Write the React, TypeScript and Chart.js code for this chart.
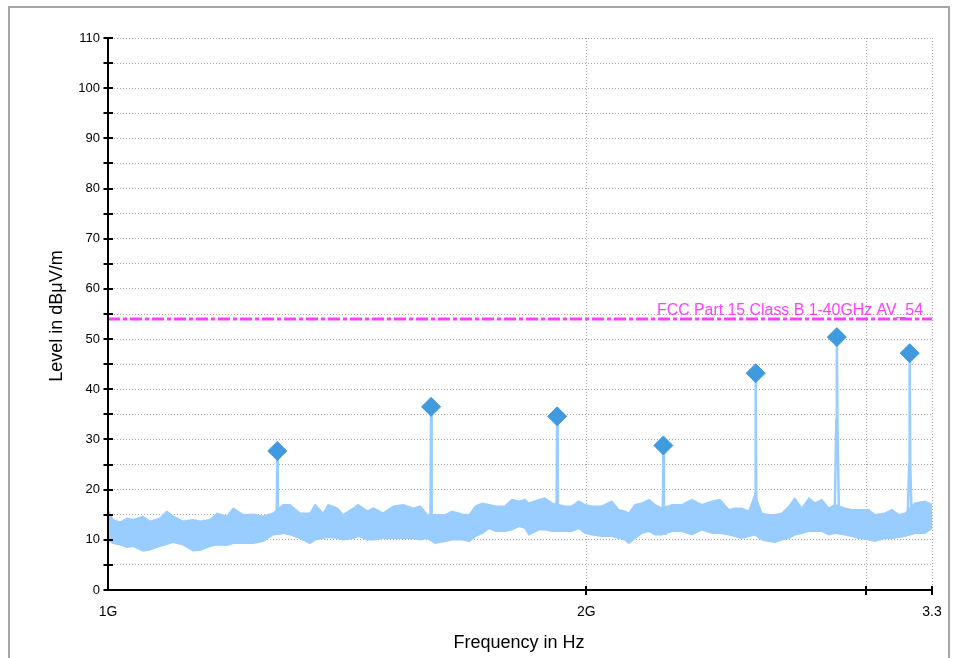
import React, { useEffect, useRef } from 'react';
import { Chart, registerables } from 'chart.js';

Chart.register(...registerables);

// ---- Data (frequencies in MHz, levels in dBµV/m) ----
const noiseFreqMHz = [
  1000, 1007, 1018, 1028, 1037, 1052, 1063, 1078, 1089, 1099,
  1115, 1131, 1143, 1159, 1171, 1188, 1199, 1216, 1234, 1252,
  1270, 1289, 1302, 1321, 1340, 1350, 1366, 1376, 1394, 1406,
  1427, 1437, 1456, 1469, 1490, 1512, 1534, 1556, 1572, 1588,
  1607, 1630, 1647, 1671, 1688, 1703, 1720, 1737, 1753, 1777,
  1795, 1814, 1830, 1840, 1867, 1883, 1903, 1939, 1958, 1978,
  1996, 2016, 2045, 2075, 2096, 2115, 2127, 2146, 2167, 2190,
  2209, 2231, 2264, 2297, 2330, 2364, 2399, 2427, 2459, 2480,
  2505, 2531, 2553, 2579, 2605, 2628, 2655, 2682, 2705, 2733,
  2761, 2785, 2813, 2842, 2867, 2909, 2938, 2968, 3011, 3038,
  3082, 3114, 3145, 3173, 3219, 3266, 3300,
];
const noiseTop = [
  16, 14, 13.5, 14.3, 14, 14.7, 13.7, 14.3, 15.7, 14.7,
  13.7, 14, 13.7, 14, 15.3, 14.7, 16.3, 15, 15.1, 14.7,
  15.3, 17, 17, 15.3, 15.3, 17, 15.3, 17, 16.3, 15,
  16.3, 17, 15.7, 16.3, 15.3, 16.7, 17, 16.3, 16.7, 15,
  15, 15, 15.7, 15.1, 15, 16.7, 17.3, 17, 16.7, 16.7,
  18, 17.7, 18, 17.3, 18, 18.3, 17.3, 16.7, 16.7, 17.7,
  17, 16.7, 16.7, 17.7, 16, 15.7, 15.3, 17, 17.3, 18,
  17, 16.3, 17, 17, 18, 17, 17.7, 18, 16, 16.3,
  16.3, 15.7, 19, 15.3, 15, 15, 15.3, 16.7, 18.3, 16.3,
  18.3, 17.3, 18, 16.3, 17, 16.3, 16, 16, 16, 15,
  15.3, 16, 15, 15.3, 17.3, 17.7, 17,
];
const noiseBottom = [
  10, 9.3, 9, 8.5, 8.7, 7.8, 8, 8.7, 9.1, 9.5,
  9, 7.8, 7.9, 8.7, 9, 8.9, 9.3, 9.3, 9.3, 9.7,
  11, 11.3, 11, 10.3, 9.3, 10, 10.3, 10.5, 10.3, 10,
  10.3, 10.7, 10, 10, 10.3, 10.3, 10.3, 10.3, 10, 10.3,
  9.3, 9.7, 10, 10, 9.7, 10.7, 11.3, 12.3, 11.7, 11.7,
  12, 12.7, 12.3, 11, 12, 12, 11.7, 11.7, 11.7, 12.3,
  11.3, 11, 10.7, 10.7, 10.3, 10, 9.3, 10.3, 11.3, 11.7,
  11, 11, 11.7, 11.7, 11, 12, 11.3, 11.3, 11, 10.7,
  10.3, 10.7, 11, 10, 9.7, 9.5, 10, 10.3, 11, 11.3,
  11.7, 11.7, 11.7, 11, 11.3, 11, 10.7, 10.3, 10, 9.7,
  10.3, 10.3, 10.5, 10.7, 11.3, 11.3, 12.3,
];

const peakFreqMHz = [1278, 1597, 1917, 2236, 2556, 2875, 3195];
const peakLevel = [27.7, 36.5, 34.6, 28.8, 43.2, 50.4, 47.2];
const peakBase = [11, 10.5, 11.7, 11, 11, 11.3, 11];
const peakShoulder = [15, 15, 15, 15, 19, 34, 25];

const limitLevel = 54;
const limitLabel = 'FCC Part 15 Class B 1-40GHz AV_54';

const xTickValues = [1000, 2000, 3000, 3300];
const xTickLabels = ['1G', '2G', '', '3.3'];
const xTitle = 'Frequency in Hz';
const yTitle = 'Level in dBμV/m';
const yMin = 0;
const yMax = 110;
const yStep = 5;
const yLabelStep = 10;

const FONT = "'Liberation Sans', Arial, sans-serif";

const decorPlugin = {
  id: 'decor',
  beforeDraw(chart: any) {
    const ctx = chart.ctx;
    ctx.save();
    ctx.fillStyle = '#ffffff';
    ctx.fillRect(0, 0, chart.width, chart.height);
    ctx.strokeStyle = '#A6A6A6';
    ctx.lineWidth = 2;
    ctx.strokeRect(9, 7, 940, 670);
    ctx.restore();
  },
  afterDatasetsDraw(chart: any) {
    const ctx = chart.ctx;
    const { left, right, top, bottom } = chart.chartArea;
    const xs = chart.scales.x;
    const ys = chart.scales.y;
    ctx.save();
    ctx.strokeStyle = '#000';
    ctx.lineWidth = 2;
    ctx.beginPath();
    ctx.moveTo(left, top);
    ctx.lineTo(left, bottom + 1);
    ctx.moveTo(left - 1, bottom);
    ctx.lineTo(right, bottom);
    for (let v = yMin; v <= yMax; v += yStep) {
      const y = Math.round(ys.getPixelForValue(v));
      ctx.moveTo(left - 4.5, y);
      ctx.lineTo(left + 5, y);
    }
    xTickValues.forEach((v) => {
      if (v === xTickValues[0]) return;
      const x = Math.round(xs.getPixelForValue(v));
      ctx.moveTo(x, bottom - 4);
      ctx.lineTo(x, bottom + 5);
    });
    ctx.stroke();

    // limit label
    ctx.fillStyle = '#FF40FF';
    ctx.font = '16px ' + FONT;
    ctx.textAlign = 'right';
    ctx.textBaseline = 'alphabetic';
    const ly = ys.getPixelForValue(limitLevel);
    ctx.fillText(limitLabel, right - 9, ly - 4, 266);

    // axis titles
    ctx.fillStyle = '#000';
    ctx.font = '18px ' + FONT;
    ctx.textAlign = 'center';
    ctx.textBaseline = 'middle';
    ctx.fillText(xTitle, 519, 643);
    ctx.translate(57, 316);
    ctx.rotate(-Math.PI / 2);
    ctx.fillText(yTitle, 0, 0);
    ctx.restore();
  },
};

export default function App() {
  const ref = useRef<HTMLCanvasElement | null>(null);
  useEffect(() => {
    if (!ref.current) return;
    const bandTop = noiseFreqMHz.map((f, i) => ({ x: f, y: noiseTop[i] }));
    const bandBottom = noiseFreqMHz.map((f, i) => ({ x: f, y: noiseBottom[i] }));
    const spikes: any[] = [];
    peakFreqMHz.forEach((f, i) => {
      spikes.push({ x: f * 0.9965, y: peakBase[i] });
      spikes.push({ x: f * 0.9992, y: peakShoulder[i] });
      spikes.push({ x: f, y: peakLevel[i] });
      spikes.push({ x: f * 1.0008, y: peakShoulder[i] });
      spikes.push({ x: f * 1.0035, y: peakBase[i] });
      spikes.push({ x: f * 1.004, y: null });
    });
    const peaks = peakFreqMHz.map((f, i) => ({ x: f, y: peakLevel[i] }));
    const limit = [
      { x: xTickValues[0], y: limitLevel },
      { x: xTickValues[xTickValues.length - 1], y: limitLevel },
    ];

    const chart = new Chart(ref.current, {
      type: 'line',
      data: {
        datasets: [
          {
            label: 'peaks',
            data: peaks,
            showLine: false,
            pointStyle: 'rectRot',
            pointRadius: 9.5,
            pointBackgroundColor: '#3F9BDD',
            pointBorderColor: '#3F9BDD',
            pointBorderWidth: 1,
          },
          {
            label: 'limit',
            data: limit,
            borderColor: '#FF40FF',
            borderWidth: 3,
            borderDash: [12, 3, 4, 3],
            pointRadius: 0,
            fill: false,
          },
          {
            label: 'spikes',
            data: spikes,
            borderColor: '#99CCFF',
            backgroundColor: '#99CCFF',
            borderWidth: 2.5,
            pointRadius: 0,
            spanGaps: false,
            fill: false,
          },
          {
            label: 'noiseTop',
            data: bandTop,
            borderColor: '#99CCFF',
            backgroundColor: '#99CCFF',
            borderWidth: 1.5,
            pointRadius: 0,
            tension: 0,
            fill: '+1',
          },
          {
            label: 'noiseBottom',
            data: bandBottom,
            borderColor: '#99CCFF',
            borderWidth: 1.5,
            pointRadius: 0,
            tension: 0,
            fill: false,
          },
        ],
      } as any,
      options: {
        responsive: false,
        animation: false,
        events: [],
        layout: { padding: { left: 48, right: 25, top: 38, bottom: 0 } },
        plugins: { legend: { display: false }, tooltip: { enabled: false } },
        scales: {
          x: {
            type: 'logarithmic',
            min: xTickValues[0],
            max: xTickValues[xTickValues.length - 1],
            afterBuildTicks: (s: any) => {
              s.ticks = xTickValues.map((v) => ({ value: v }));
            },
            afterFit: (s: any) => {
              s.height = 68;
            },
            ticks: {
              autoSkip: false,
              maxRotation: 0,
              padding: 14,
              color: '#000',
              font: { family: FONT, size: 14 },
              callback: (_v: any, i: number) => xTickLabels[i],
            },
            grid: { color: '#A8A8A8', lineWidth: 1, drawTicks: false, borderDash: [1, 2] },
            border: { display: false, dash: [1, 2] },
          },
          y: {
            type: 'linear',
            min: yMin,
            max: yMax,
            afterFit: (s: any) => {
              s.width = 60;
            },
            ticks: {
              stepSize: yStep,
              padding: 8,
              color: '#000',
              font: { family: FONT, size: 13 },
              callback: (v: any) => (Number(v) % yLabelStep === 0 ? String(v) : ''),
            },
            grid: { color: '#A8A8A8', lineWidth: 1, drawTicks: false, borderDash: [1, 2] },
            border: { display: false, dash: [1, 2] },
          },
        },
      } as any,
      plugins: [decorPlugin],
    });
    return () => chart.destroy();
  }, []);

  return (
    <div style={{ position: 'absolute', left: 0, top: 0, width: 957, height: 658 }}>
      <canvas ref={ref} width={957} height={658} />
    </div>
  );
}
